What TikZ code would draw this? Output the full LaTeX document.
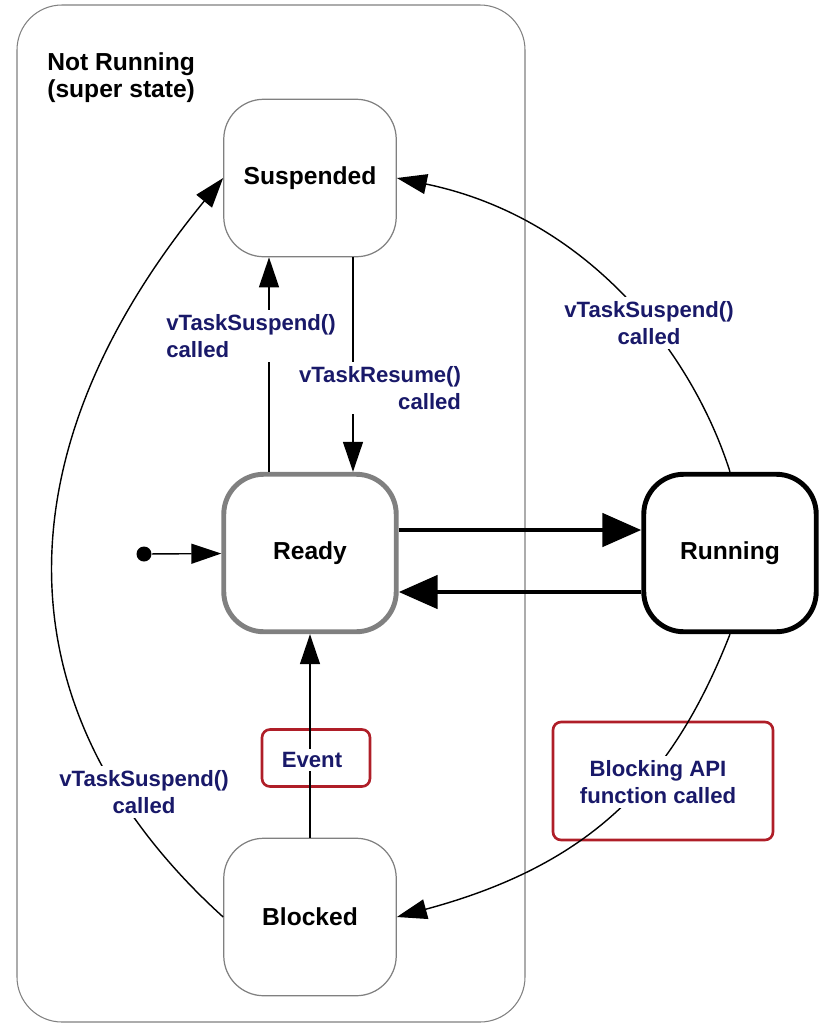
\documentclass[tikz,border=0pt]{standalone}
\usepackage{fontspec}
\setsansfont{Liberation Sans}
\usetikzlibrary{arrows.meta}
\definecolor{navy}{RGB}{25,25,105}
\definecolor{darkred}{RGB}{175,30,40}

\begin{document}
\begin{tikzpicture}[x=0.02cm,y=-0.02cm,font=\sffamily\bfseries,>={Triangle[length=0.6cm,width=0.4cm]},
  statebox/.style={rounded corners=0.8cm,minimum width=3.45cm,minimum height=3.15cm,fill=white,
    font=\sffamily\bfseries\fontsize{14}{16}\selectfont},
  plainstate/.style={draw=gray,line width=0.7pt},
  readystate/.style={draw=gray,line width=2.8pt},
  runstate/.style={draw=black,line width=2.8pt},
  lbl/.style={text=navy,fill=white,inner sep=2pt,align=center,font=\sffamily\bfseries\fontsize{12.6}{15.8}\selectfont},
  redframe/.style={draw=darkred,line width=1.5pt,rounded corners=0.16cm},
  conn/.style={line width=0.8pt,->},
  fat/.style={line width=2.8pt,-{Triangle[length=0.78cm,width=0.66cm]}}]
\useasboundingbox (0,0) rectangle (825,1025);
\draw[gray,line width=0.6pt,rounded corners=0.9cm] (17,5) rectangle (525,1022);
\node[anchor=north west,align=left,inner sep=0,font=\sffamily\bfseries\fontsize{14}{15.5}\selectfont] (super) at (47,52) {Not Running\\(super state)};
\foreach \n/\x/\y/\txt/\sty in {susp/310/178/Suspended/plainstate,ready/310/553/Ready/readystate,
    run/730/553/Running/runstate,blk/310/917/Blocked/plainstate}
  \node[statebox,\sty] (\n) at (\x,\y) {\txt};
\node[redframe,minimum width=2.16cm,minimum height=1.14cm] (evbox) at (316,758) {};
\node[redframe,minimum width=4.4cm,minimum height=2.36cm] (apibox) at (663,781) {};
\node[circle,fill,inner sep=0,minimum size=0.3cm] (init) at (144,554) {};
\draw[conn] (init) -- (ready);
\draw[conn] ([xshift=-0.82cm]ready.north) -- ([xshift=-0.82cm]susp.south);
\draw[conn] ([xshift=0.86cm]susp.south) -- ([xshift=0.86cm]ready.north);
\draw[fat] ([yshift=0.46cm]ready.east) -- ([yshift=0.46cm]run.west);
\draw[fat] ([yshift=-0.78cm]run.west) -- ([yshift=-0.78cm]ready.east);
\draw[conn] (blk) -- (ready);
\draw[conn] (run.north) .. controls (693,355) and (590,218) .. (susp.east);
\draw[conn] (blk.west) .. controls (-5,710) and (0,450) .. (susp.west);
\draw[conn] (run.south) .. controls (672,782) and (590,865) .. (blk.east);
\node[lbl,align=left] (vsus) at (251,336) {vTaskSuspend()\\called};
\node[lbl,align=right] (vres) at (380,388) {vTaskResume()\\called};
\node[lbl] (rsus) at (649,323) {vTaskSuspend()\\called};
\node[lbl] (lsus) at (144,792) {vTaskSuspend()\\called};
\node[lbl] (ev) at (312,760) {Event};
\node[lbl] (api) at (658,782) {Blocking API\\function called};
\end{tikzpicture}
\end{document}
